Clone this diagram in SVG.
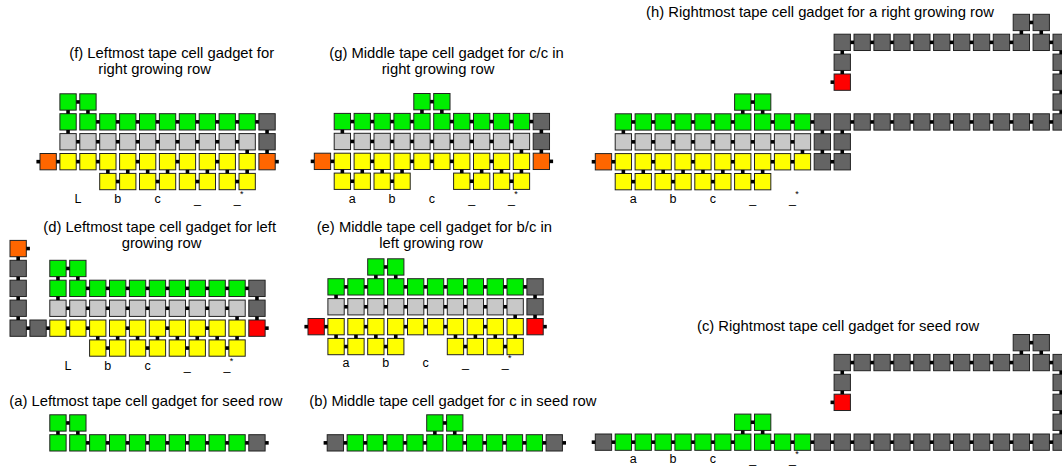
<svg xmlns="http://www.w3.org/2000/svg" width="1062" height="468" viewBox="0 0 1062 468">
<style>
.ti{font-family:"Liberation Sans",Arial,sans-serif;font-size:14.8px;fill:#000}
.lb{font-family:"Liberation Sans",Arial,sans-serif;font-size:12.5px;text-anchor:middle;fill:#000}
.st{font-family:"Liberation Sans",Arial,sans-serif;font-size:9px;fill:#000}
</style>
<defs>
<rect id="G" x="0.5" y="0.5" width="16.4" height="16.4" fill="#00ee00" stroke="#222" stroke-width="1"/>
<rect id="L" x="0.5" y="0.5" width="16.4" height="16.4" fill="#c8c8c8" stroke="#222" stroke-width="1"/>
<rect id="D" x="0.5" y="0.5" width="16.4" height="16.4" fill="#646464" stroke="#222" stroke-width="1"/>
<rect id="Y" x="0.5" y="0.5" width="16.4" height="16.4" fill="#ffff00" stroke="#222" stroke-width="1"/>
<rect id="O" x="0.5" y="0.5" width="16.4" height="16.4" fill="#ff6600" stroke="#222" stroke-width="1"/>
<rect id="R" x="0.5" y="0.5" width="16.4" height="16.4" fill="#ff0000" stroke="#222" stroke-width="1"/>
<rect id="k" width="3.6" height="3.6" fill="#000"/>
</defs>

<!-- (f) -->
<g id="gadget-f">
<text class="ti" x="69.3" y="58">(f) Leftmost tape cell gadget for</text>
<text class="ti" x="98.3" y="74.3">right growing row</text>
<g transform="translate(39.5,93.3) scale(0.995)">
<use href="#G" x="20" y="0"/><use href="#G" x="40" y="0"/>
<use href="#G" x="20" y="20"/><use href="#G" x="40" y="20"/><use href="#G" x="60" y="20"/><use href="#G" x="80" y="20"/><use href="#G" x="100" y="20"/><use href="#G" x="120" y="20"/><use href="#G" x="140" y="20"/><use href="#G" x="160" y="20"/><use href="#G" x="180" y="20"/><use href="#G" x="200" y="20"/><use href="#D" x="220" y="20"/>
<use href="#L" x="20" y="40"/><use href="#L" x="40" y="40"/><use href="#L" x="60" y="40"/><use href="#L" x="80" y="40"/><use href="#L" x="100" y="40"/><use href="#L" x="120" y="40"/><use href="#L" x="140" y="40"/><use href="#L" x="160" y="40"/><use href="#L" x="180" y="40"/><use href="#L" x="200" y="40"/><use href="#D" x="220" y="40"/>
<use href="#O" x="0" y="60"/><use href="#Y" x="20" y="60"/><use href="#Y" x="40" y="60"/><use href="#Y" x="60" y="60"/><use href="#Y" x="80" y="60"/><use href="#Y" x="100" y="60"/><use href="#Y" x="120" y="60"/><use href="#Y" x="140" y="60"/><use href="#Y" x="160" y="60"/><use href="#Y" x="180" y="60"/><use href="#Y" x="200" y="60"/><use href="#O" x="220" y="60"/>
<use href="#Y" x="60" y="80"/><use href="#Y" x="80" y="80"/><use href="#Y" x="100" y="80"/><use href="#Y" x="120" y="80"/><use href="#Y" x="140" y="80"/><use href="#Y" x="160" y="80"/><use href="#Y" x="180" y="80"/><use href="#Y" x="200" y="80"/>
</g>
<text class="lb" x="78" y="203.3">L</text><text class="lb" x="117.8" y="203.3">b</text><text class="lb" x="157.6" y="203.3">c</text><text class="lb" x="197.4" y="203.3">_</text><text class="lb" x="237.2" y="203.3">_</text><text class="st" x="239.9" y="197.3">*</text>
</g>

<!-- (g) -->
<g id="gadget-g">
<text class="ti" x="329.3" y="58">(g) Middle tape cell gadget for c/c in</text>
<text class="ti" x="381.7" y="74.3">right growing row</text>
<g transform="translate(313.8,93) scale(0.995)">
<use href="#G" x="100" y="0"/><use href="#G" x="120" y="0"/>
<use href="#G" x="20" y="20"/><use href="#G" x="40" y="20"/><use href="#G" x="60" y="20"/><use href="#G" x="80" y="20"/><use href="#G" x="100" y="20"/><use href="#G" x="120" y="20"/><use href="#G" x="140" y="20"/><use href="#G" x="160" y="20"/><use href="#G" x="180" y="20"/><use href="#G" x="200" y="20"/><use href="#D" x="220" y="20"/>
<use href="#L" x="20" y="40"/><use href="#L" x="40" y="40"/><use href="#L" x="60" y="40"/><use href="#L" x="80" y="40"/><use href="#L" x="100" y="40"/><use href="#L" x="120" y="40"/><use href="#L" x="140" y="40"/><use href="#L" x="160" y="40"/><use href="#L" x="180" y="40"/><use href="#L" x="200" y="40"/><use href="#D" x="220" y="40"/>
<use href="#O" x="0" y="60"/><use href="#Y" x="20" y="60"/><use href="#Y" x="40" y="60"/><use href="#Y" x="60" y="60"/><use href="#Y" x="80" y="60"/><use href="#Y" x="100" y="60"/><use href="#Y" x="120" y="60"/><use href="#Y" x="140" y="60"/><use href="#Y" x="160" y="60"/><use href="#Y" x="180" y="60"/><use href="#Y" x="200" y="60"/><use href="#O" x="220" y="60"/>
<use href="#Y" x="20" y="80"/><use href="#Y" x="40" y="80"/><use href="#Y" x="60" y="80"/><use href="#Y" x="80" y="80"/><use href="#Y" x="140" y="80"/><use href="#Y" x="160" y="80"/><use href="#Y" x="180" y="80"/><use href="#Y" x="200" y="80"/>
</g>
<text class="lb" x="352.3" y="202.7">a</text><text class="lb" x="392.1" y="202.7">b</text><text class="lb" x="431.9" y="202.7">c</text><text class="lb" x="471.7" y="202.7">_</text><text class="lb" x="511.5" y="202.7">_</text><text class="st" x="514.2" y="196.7">*</text>
</g>

<!-- (h) -->
<g id="gadget-h">
<text class="ti" x="646" y="16.7">(h) Rightmost tape cell gadget for a right growing row</text>
<g transform="translate(594.8,93.4) scale(0.995)">
<use href="#D" x="420" y="-80"/><use href="#D" x="440" y="-80"/>
<use href="#D" x="240" y="-60"/><use href="#D" x="260" y="-60"/><use href="#D" x="280" y="-60"/><use href="#D" x="300" y="-60"/><use href="#D" x="320" y="-60"/><use href="#D" x="340" y="-60"/><use href="#D" x="360" y="-60"/><use href="#D" x="380" y="-60"/><use href="#D" x="400" y="-60"/><use href="#D" x="420" y="-60"/><use href="#D" x="440" y="-60"/><use href="#D" x="460" y="-60"/>
<use href="#D" x="240" y="-40"/><use href="#D" x="460" y="-40"/>
<use href="#R" x="240" y="-20"/><use href="#D" x="460" y="-20"/>
<use href="#G" x="140" y="0"/><use href="#G" x="160" y="0"/><use href="#D" x="460" y="0"/>
<use href="#G" x="20" y="20"/><use href="#G" x="40" y="20"/><use href="#G" x="60" y="20"/><use href="#G" x="80" y="20"/><use href="#G" x="100" y="20"/><use href="#G" x="120" y="20"/><use href="#G" x="140" y="20"/><use href="#G" x="160" y="20"/><use href="#G" x="180" y="20"/><use href="#G" x="200" y="20"/>
<use href="#D" x="220" y="20"/><use href="#D" x="240" y="20"/><use href="#D" x="260" y="20"/><use href="#D" x="280" y="20"/><use href="#D" x="300" y="20"/><use href="#D" x="320" y="20"/><use href="#D" x="340" y="20"/><use href="#D" x="360" y="20"/><use href="#D" x="380" y="20"/><use href="#D" x="400" y="20"/><use href="#D" x="420" y="20"/><use href="#D" x="440" y="20"/><use href="#D" x="460" y="20"/>
<use href="#L" x="20" y="40"/><use href="#L" x="40" y="40"/><use href="#L" x="60" y="40"/><use href="#L" x="80" y="40"/><use href="#L" x="100" y="40"/><use href="#L" x="120" y="40"/><use href="#L" x="140" y="40"/><use href="#L" x="160" y="40"/><use href="#L" x="180" y="40"/><use href="#L" x="200" y="40"/><use href="#D" x="220" y="40"/><use href="#D" x="240" y="40"/>
<use href="#O" x="0" y="60"/><use href="#Y" x="20" y="60"/><use href="#Y" x="40" y="60"/><use href="#Y" x="60" y="60"/><use href="#Y" x="80" y="60"/><use href="#Y" x="100" y="60"/><use href="#Y" x="120" y="60"/><use href="#Y" x="140" y="60"/><use href="#Y" x="160" y="60"/><use href="#Y" x="180" y="60"/><use href="#Y" x="200" y="60"/><use href="#D" x="220" y="60"/><use href="#D" x="240" y="60"/>
<use href="#Y" x="20" y="80"/><use href="#Y" x="40" y="80"/><use href="#Y" x="60" y="80"/><use href="#Y" x="80" y="80"/><use href="#Y" x="100" y="80"/><use href="#Y" x="120" y="80"/><use href="#Y" x="140" y="80"/><use href="#Y" x="160" y="80"/>
</g>
<text class="lb" x="633.3" y="202.5">a</text><text class="lb" x="673.1" y="202.5">b</text><text class="lb" x="712.9" y="202.5">c</text><text class="lb" x="752.7" y="202.5">_</text><text class="lb" x="792.5" y="202.5">_</text><text class="st" x="795.2" y="196.5">*</text>
</g>

<!-- (d) -->
<g id="gadget-d">
<text class="ti" x="43.3" y="232">(d) Leftmost tape cell gadget for left</text>
<text class="ti" x="121.7" y="248.3">growing row</text>
<g transform="translate(29.4,259.8) scale(0.995)">
<use href="#O" x="-20" y="-20"/>
<use href="#D" x="-20" y="0"/><use href="#D" x="-20" y="20"/><use href="#D" x="-20" y="40"/><use href="#D" x="-20" y="60"/><use href="#D" x="0" y="60"/>
<use href="#G" x="20" y="0"/><use href="#G" x="40" y="0"/>
<use href="#G" x="20" y="20"/><use href="#G" x="40" y="20"/><use href="#G" x="60" y="20"/><use href="#G" x="80" y="20"/><use href="#G" x="100" y="20"/><use href="#G" x="120" y="20"/><use href="#G" x="140" y="20"/><use href="#G" x="160" y="20"/><use href="#G" x="180" y="20"/><use href="#G" x="200" y="20"/><use href="#D" x="220" y="20"/>
<use href="#L" x="20" y="40"/><use href="#L" x="40" y="40"/><use href="#L" x="60" y="40"/><use href="#L" x="80" y="40"/><use href="#L" x="100" y="40"/><use href="#L" x="120" y="40"/><use href="#L" x="140" y="40"/><use href="#L" x="160" y="40"/><use href="#L" x="180" y="40"/><use href="#L" x="200" y="40"/><use href="#D" x="220" y="40"/>
<use href="#Y" x="20" y="60"/><use href="#Y" x="40" y="60"/><use href="#Y" x="60" y="60"/><use href="#Y" x="80" y="60"/><use href="#Y" x="100" y="60"/><use href="#Y" x="120" y="60"/><use href="#Y" x="140" y="60"/><use href="#Y" x="160" y="60"/><use href="#Y" x="180" y="60"/><use href="#Y" x="200" y="60"/><use href="#R" x="220" y="60"/>
<use href="#Y" x="60" y="80"/><use href="#Y" x="80" y="80"/><use href="#Y" x="100" y="80"/><use href="#Y" x="120" y="80"/><use href="#Y" x="140" y="80"/><use href="#Y" x="160" y="80"/><use href="#Y" x="180" y="80"/><use href="#Y" x="200" y="80"/>
</g>
<text class="lb" x="67.9" y="369.5">L</text><text class="lb" x="107.7" y="369.5">b</text><text class="lb" x="147.5" y="369.5">c</text><text class="lb" x="187.3" y="369.5">_</text><text class="lb" x="227.1" y="369.5">_</text><text class="st" x="229.8" y="363.5">*</text>
</g>

<!-- (e) -->
<g id="gadget-e">
<text class="ti" x="316.7" y="232">(e) Middle tape cell gadget for b/c in</text>
<text class="ti" x="379.3" y="248.3">left growing row</text>
<g transform="translate(307.5,258.3) scale(0.995)">
<use href="#G" x="60" y="0"/><use href="#G" x="80" y="0"/>
<use href="#G" x="20" y="20"/><use href="#G" x="40" y="20"/><use href="#G" x="60" y="20"/><use href="#G" x="80" y="20"/><use href="#G" x="100" y="20"/><use href="#G" x="120" y="20"/><use href="#G" x="140" y="20"/><use href="#G" x="160" y="20"/><use href="#G" x="180" y="20"/><use href="#G" x="200" y="20"/><use href="#D" x="220" y="20"/>
<use href="#L" x="20" y="40"/><use href="#L" x="40" y="40"/><use href="#L" x="60" y="40"/><use href="#L" x="80" y="40"/><use href="#L" x="100" y="40"/><use href="#L" x="120" y="40"/><use href="#L" x="140" y="40"/><use href="#L" x="160" y="40"/><use href="#L" x="180" y="40"/><use href="#L" x="200" y="40"/><use href="#D" x="220" y="40"/>
<use href="#R" x="0" y="60"/><use href="#Y" x="20" y="60"/><use href="#Y" x="40" y="60"/><use href="#Y" x="60" y="60"/><use href="#Y" x="80" y="60"/><use href="#Y" x="100" y="60"/><use href="#Y" x="120" y="60"/><use href="#Y" x="140" y="60"/><use href="#Y" x="160" y="60"/><use href="#Y" x="180" y="60"/><use href="#Y" x="200" y="60"/><use href="#R" x="220" y="60"/>
<use href="#Y" x="20" y="80"/><use href="#Y" x="40" y="80"/><use href="#Y" x="60" y="80"/><use href="#Y" x="80" y="80"/><use href="#Y" x="140" y="80"/><use href="#Y" x="160" y="80"/><use href="#Y" x="180" y="80"/><use href="#Y" x="200" y="80"/>
</g>
<text class="lb" x="346" y="367">a</text><text class="lb" x="385.8" y="367">b</text><text class="lb" x="425.6" y="367">c</text><text class="lb" x="465.4" y="367">_</text><text class="lb" x="505.2" y="367">_</text><text class="st" x="507.9" y="361">*</text>
</g>

<!-- (a) -->
<g id="gadget-a">
<text class="ti" x="9.3" y="405.7">(a) Leftmost tape cell gadget for seed row</text>
<g transform="translate(29.4,414.3) scale(0.995)">
<use href="#G" x="20" y="0"/><use href="#G" x="40" y="0"/>
<use href="#G" x="20" y="20"/><use href="#G" x="40" y="20"/><use href="#G" x="60" y="20"/><use href="#G" x="80" y="20"/><use href="#G" x="100" y="20"/><use href="#G" x="120" y="20"/><use href="#G" x="140" y="20"/><use href="#G" x="160" y="20"/><use href="#G" x="180" y="20"/><use href="#G" x="200" y="20"/><use href="#D" x="220" y="20"/>
</g>
</g>

<!-- (b) -->
<g id="gadget-b">
<text class="ti" x="309.3" y="405.7">(b) Middle tape cell gadget for c in seed row</text>
<g transform="translate(326.7,414.3) scale(0.995)">
<use href="#G" x="100" y="0"/><use href="#G" x="120" y="0"/>
<use href="#D" x="0" y="20"/><use href="#G" x="20" y="20"/><use href="#G" x="40" y="20"/><use href="#G" x="60" y="20"/><use href="#G" x="80" y="20"/><use href="#G" x="100" y="20"/><use href="#G" x="120" y="20"/><use href="#G" x="140" y="20"/><use href="#G" x="160" y="20"/><use href="#G" x="180" y="20"/><use href="#G" x="200" y="20"/><use href="#D" x="220" y="20"/>
</g>
</g>

<!-- (c) -->
<g id="gadget-c">
<text class="ti" x="697" y="330.7">(c) Rightmost tape cell gadget for seed row</text>
<g transform="translate(594.8,413.6) scale(0.995)">
<use href="#D" x="420" y="-80"/><use href="#D" x="440" y="-80"/>
<use href="#D" x="240" y="-60"/><use href="#D" x="260" y="-60"/><use href="#D" x="280" y="-60"/><use href="#D" x="300" y="-60"/><use href="#D" x="320" y="-60"/><use href="#D" x="340" y="-60"/><use href="#D" x="360" y="-60"/><use href="#D" x="380" y="-60"/><use href="#D" x="400" y="-60"/><use href="#D" x="420" y="-60"/><use href="#D" x="440" y="-60"/><use href="#D" x="460" y="-60"/>
<use href="#D" x="240" y="-40"/><use href="#D" x="460" y="-40"/>
<use href="#R" x="240" y="-20"/><use href="#D" x="460" y="-20"/>
<use href="#G" x="140" y="0"/><use href="#G" x="160" y="0"/><use href="#D" x="460" y="0"/>
<use href="#D" x="0" y="20"/><use href="#G" x="20" y="20"/><use href="#G" x="40" y="20"/><use href="#G" x="60" y="20"/><use href="#G" x="80" y="20"/><use href="#G" x="100" y="20"/><use href="#G" x="120" y="20"/><use href="#G" x="140" y="20"/><use href="#G" x="160" y="20"/><use href="#G" x="180" y="20"/><use href="#G" x="200" y="20"/>
<use href="#D" x="220" y="20"/><use href="#D" x="240" y="20"/><use href="#D" x="260" y="20"/><use href="#D" x="280" y="20"/><use href="#D" x="300" y="20"/><use href="#D" x="320" y="20"/><use href="#D" x="340" y="20"/><use href="#D" x="360" y="20"/><use href="#D" x="380" y="20"/><use href="#D" x="400" y="20"/><use href="#D" x="420" y="20"/><use href="#D" x="440" y="20"/><use href="#D" x="460" y="20"/>
</g>
<text class="lb" x="633.3" y="463.3">a</text><text class="lb" x="673.1" y="463.3">b</text><text class="lb" x="712.9" y="463.3">c</text><text class="lb" x="752.7" y="463.3">_</text><text class="lb" x="792.5" y="463.3">_</text><text class="st" x="795.2" y="457.3">*</text>
</g>

<g id="connectors">
<g id="conn-f" transform="translate(39.5,93.3) scale(0.995)">
<use href="#k" x="36.9" y="6.9"/><use href="#k" x="26.9" y="16.9"/><use href="#k" x="46.9" y="16.9"/>
<use href="#k" x="56.9" y="26.9"/><use href="#k" x="76.9" y="26.9"/><use href="#k" x="96.9" y="26.9"/><use href="#k" x="116.9" y="26.9"/><use href="#k" x="136.9" y="26.9"/><use href="#k" x="156.9" y="26.9"/><use href="#k" x="176.9" y="26.9"/><use href="#k" x="196.9" y="26.9"/><use href="#k" x="216.9" y="26.9"/>
<use href="#k" x="26.9" y="36.9"/><use href="#k" x="226.9" y="36.9"/>
<use href="#k" x="36.9" y="46.9"/><use href="#k" x="56.9" y="46.9"/><use href="#k" x="76.9" y="46.9"/><use href="#k" x="96.9" y="46.9"/><use href="#k" x="116.9" y="46.9"/><use href="#k" x="136.9" y="46.9"/><use href="#k" x="156.9" y="46.9"/><use href="#k" x="176.9" y="46.9"/><use href="#k" x="196.9" y="46.9"/>
<use href="#k" x="206.9" y="56.9"/><use href="#k" x="226.9" y="56.9"/>
<use href="#k" x="-3.1" y="66.9"/><use href="#k" x="16.9" y="66.9"/><use href="#k" x="36.9" y="66.9"/><use href="#k" x="56.9" y="66.9"/><use href="#k" x="96.9" y="66.9"/><use href="#k" x="136.9" y="66.9"/><use href="#k" x="176.9" y="66.9"/><use href="#k" x="236.9" y="66.9"/>
<use href="#k" x="66.9" y="76.9"/><use href="#k" x="86.9" y="76.9"/><use href="#k" x="106.9" y="76.9"/><use href="#k" x="126.9" y="76.9"/><use href="#k" x="146.9" y="76.9"/><use href="#k" x="166.9" y="76.9"/><use href="#k" x="186.9" y="76.9"/><use href="#k" x="206.9" y="76.9"/>
<use href="#k" x="76.9" y="86.9"/><use href="#k" x="116.9" y="86.9"/><use href="#k" x="156.9" y="86.9"/><use href="#k" x="196.9" y="86.9"/>
</g>
<g id="conn-g" transform="translate(313.8,93) scale(0.995)">
<use href="#k" x="116.9" y="6.9"/><use href="#k" x="106.9" y="16.9"/><use href="#k" x="126.9" y="16.9"/>
<use href="#k" x="36.9" y="26.9"/><use href="#k" x="56.9" y="26.9"/><use href="#k" x="76.9" y="26.9"/><use href="#k" x="96.9" y="26.9"/><use href="#k" x="136.9" y="26.9"/><use href="#k" x="156.9" y="26.9"/><use href="#k" x="176.9" y="26.9"/><use href="#k" x="196.9" y="26.9"/><use href="#k" x="216.9" y="26.9"/>
<use href="#k" x="26.9" y="36.9"/><use href="#k" x="226.9" y="36.9"/>
<use href="#k" x="36.9" y="46.9"/><use href="#k" x="56.9" y="46.9"/><use href="#k" x="76.9" y="46.9"/><use href="#k" x="96.9" y="46.9"/><use href="#k" x="116.9" y="46.9"/><use href="#k" x="136.9" y="46.9"/><use href="#k" x="156.9" y="46.9"/><use href="#k" x="176.9" y="46.9"/><use href="#k" x="196.9" y="46.9"/>
<use href="#k" x="206.9" y="56.9"/><use href="#k" x="226.9" y="56.9"/>
<use href="#k" x="-3.1" y="66.9"/><use href="#k" x="16.9" y="66.9"/><use href="#k" x="56.9" y="66.9"/><use href="#k" x="96.9" y="66.9"/><use href="#k" x="116.9" y="66.9"/><use href="#k" x="136.9" y="66.9"/><use href="#k" x="176.9" y="66.9"/><use href="#k" x="236.9" y="66.9"/>
<use href="#k" x="26.9" y="76.9"/><use href="#k" x="46.9" y="76.9"/><use href="#k" x="66.9" y="76.9"/><use href="#k" x="86.9" y="76.9"/><use href="#k" x="146.9" y="76.9"/><use href="#k" x="166.9" y="76.9"/><use href="#k" x="186.9" y="76.9"/><use href="#k" x="206.9" y="76.9"/>
<use href="#k" x="36.9" y="86.9"/><use href="#k" x="76.9" y="86.9"/><use href="#k" x="156.9" y="86.9"/><use href="#k" x="196.9" y="86.9"/>
</g>
<g id="conn-h" transform="translate(594.8,93.4) scale(0.995)">
<use href="#k" x="436.9" y="-73.1"/><use href="#k" x="426.9" y="-63.1"/><use href="#k" x="446.9" y="-63.1"/>
<use href="#k" x="256.9" y="-53.1"/><use href="#k" x="276.9" y="-53.1"/><use href="#k" x="296.9" y="-53.1"/><use href="#k" x="316.9" y="-53.1"/><use href="#k" x="336.9" y="-53.1"/><use href="#k" x="356.9" y="-53.1"/><use href="#k" x="376.9" y="-53.1"/><use href="#k" x="396.9" y="-53.1"/><use href="#k" x="416.9" y="-53.1"/><use href="#k" x="456.9" y="-53.1"/>
<use href="#k" x="246.9" y="-43.1"/><use href="#k" x="466.9" y="-43.1"/>
<use href="#k" x="246.9" y="-23.1"/><use href="#k" x="466.9" y="-23.1"/>
<use href="#k" x="236.9" y="-13.1"/><use href="#k" x="466.9" y="-3.1"/>
<use href="#k" x="156.9" y="6.9"/><use href="#k" x="146.9" y="16.9"/><use href="#k" x="166.9" y="16.9"/><use href="#k" x="466.9" y="16.9"/>
<use href="#k" x="36.9" y="26.9"/><use href="#k" x="56.9" y="26.9"/><use href="#k" x="76.9" y="26.9"/><use href="#k" x="96.9" y="26.9"/><use href="#k" x="116.9" y="26.9"/><use href="#k" x="136.9" y="26.9"/><use href="#k" x="176.9" y="26.9"/><use href="#k" x="196.9" y="26.9"/><use href="#k" x="216.9" y="26.9"/>
<use href="#k" x="256.9" y="26.9"/><use href="#k" x="276.9" y="26.9"/><use href="#k" x="296.9" y="26.9"/><use href="#k" x="316.9" y="26.9"/><use href="#k" x="336.9" y="26.9"/><use href="#k" x="356.9" y="26.9"/><use href="#k" x="376.9" y="26.9"/><use href="#k" x="396.9" y="26.9"/><use href="#k" x="416.9" y="26.9"/><use href="#k" x="436.9" y="26.9"/><use href="#k" x="456.9" y="26.9"/>
<use href="#k" x="26.9" y="36.9"/><use href="#k" x="226.9" y="36.9"/><use href="#k" x="246.9" y="36.9"/>
<use href="#k" x="36.9" y="46.9"/><use href="#k" x="56.9" y="46.9"/><use href="#k" x="76.9" y="46.9"/><use href="#k" x="96.9" y="46.9"/><use href="#k" x="116.9" y="46.9"/><use href="#k" x="136.9" y="46.9"/><use href="#k" x="156.9" y="46.9"/><use href="#k" x="176.9" y="46.9"/><use href="#k" x="196.9" y="46.9"/>
<use href="#k" x="206.9" y="56.9"/><use href="#k" x="226.9" y="56.9"/><use href="#k" x="246.9" y="56.9"/>
<use href="#k" x="-3.1" y="66.9"/><use href="#k" x="16.9" y="66.9"/><use href="#k" x="56.9" y="66.9"/><use href="#k" x="96.9" y="66.9"/><use href="#k" x="136.9" y="66.9"/><use href="#k" x="176.9" y="66.9"/><use href="#k" x="196.9" y="66.9"/><use href="#k" x="236.9" y="66.9"/>
<use href="#k" x="26.9" y="76.9"/><use href="#k" x="46.9" y="76.9"/><use href="#k" x="66.9" y="76.9"/><use href="#k" x="86.9" y="76.9"/><use href="#k" x="106.9" y="76.9"/><use href="#k" x="126.9" y="76.9"/><use href="#k" x="146.9" y="76.9"/><use href="#k" x="166.9" y="76.9"/>
<use href="#k" x="36.9" y="86.9"/><use href="#k" x="76.9" y="86.9"/><use href="#k" x="116.9" y="86.9"/><use href="#k" x="156.9" y="86.9"/>
</g>
<g id="conn-d" transform="translate(29.4,259.8) scale(0.995)">
<use href="#k" x="-3.1" y="-13.1"/><use href="#k" x="-13.1" y="-3.1"/><use href="#k" x="-13.1" y="16.9"/><use href="#k" x="-13.1" y="36.9"/><use href="#k" x="-13.1" y="56.9"/>
<use href="#k" x="36.9" y="6.9"/><use href="#k" x="26.9" y="16.9"/><use href="#k" x="46.9" y="16.9"/>
<use href="#k" x="56.9" y="26.9"/><use href="#k" x="76.9" y="26.9"/><use href="#k" x="96.9" y="26.9"/><use href="#k" x="116.9" y="26.9"/><use href="#k" x="136.9" y="26.9"/><use href="#k" x="156.9" y="26.9"/><use href="#k" x="176.9" y="26.9"/><use href="#k" x="196.9" y="26.9"/><use href="#k" x="216.9" y="26.9"/>
<use href="#k" x="26.9" y="36.9"/><use href="#k" x="226.9" y="36.9"/>
<use href="#k" x="36.9" y="46.9"/><use href="#k" x="56.9" y="46.9"/><use href="#k" x="76.9" y="46.9"/><use href="#k" x="96.9" y="46.9"/><use href="#k" x="116.9" y="46.9"/><use href="#k" x="136.9" y="46.9"/><use href="#k" x="156.9" y="46.9"/><use href="#k" x="176.9" y="46.9"/><use href="#k" x="196.9" y="46.9"/>
<use href="#k" x="206.9" y="56.9"/><use href="#k" x="226.9" y="56.9"/>
<use href="#k" x="-3.1" y="66.9"/><use href="#k" x="16.9" y="66.9"/><use href="#k" x="36.9" y="66.9"/><use href="#k" x="56.9" y="66.9"/><use href="#k" x="96.9" y="66.9"/><use href="#k" x="136.9" y="66.9"/><use href="#k" x="176.9" y="66.9"/><use href="#k" x="236.9" y="66.9"/>
<use href="#k" x="66.9" y="76.9"/><use href="#k" x="86.9" y="76.9"/><use href="#k" x="106.9" y="76.9"/><use href="#k" x="126.9" y="76.9"/><use href="#k" x="146.9" y="76.9"/><use href="#k" x="166.9" y="76.9"/><use href="#k" x="186.9" y="76.9"/><use href="#k" x="206.9" y="76.9"/>
<use href="#k" x="76.9" y="86.9"/><use href="#k" x="116.9" y="86.9"/><use href="#k" x="156.9" y="86.9"/><use href="#k" x="196.9" y="86.9"/>
</g>
<g id="conn-e" transform="translate(307.5,258.3) scale(0.995)">
<use href="#k" x="76.9" y="6.9"/><use href="#k" x="66.9" y="16.9"/><use href="#k" x="86.9" y="16.9"/>
<use href="#k" x="36.9" y="26.9"/><use href="#k" x="56.9" y="26.9"/><use href="#k" x="96.9" y="26.9"/><use href="#k" x="116.9" y="26.9"/><use href="#k" x="136.9" y="26.9"/><use href="#k" x="156.9" y="26.9"/><use href="#k" x="176.9" y="26.9"/><use href="#k" x="196.9" y="26.9"/><use href="#k" x="216.9" y="26.9"/>
<use href="#k" x="26.9" y="36.9"/><use href="#k" x="226.9" y="36.9"/>
<use href="#k" x="36.9" y="46.9"/><use href="#k" x="56.9" y="46.9"/><use href="#k" x="76.9" y="46.9"/><use href="#k" x="96.9" y="46.9"/><use href="#k" x="116.9" y="46.9"/><use href="#k" x="136.9" y="46.9"/><use href="#k" x="156.9" y="46.9"/><use href="#k" x="176.9" y="46.9"/><use href="#k" x="196.9" y="46.9"/>
<use href="#k" x="206.9" y="56.9"/><use href="#k" x="226.9" y="56.9"/>
<use href="#k" x="-3.1" y="66.9"/><use href="#k" x="16.9" y="66.9"/><use href="#k" x="56.9" y="66.9"/><use href="#k" x="96.9" y="66.9"/><use href="#k" x="116.9" y="66.9"/><use href="#k" x="136.9" y="66.9"/><use href="#k" x="176.9" y="66.9"/><use href="#k" x="236.9" y="66.9"/>
<use href="#k" x="26.9" y="76.9"/><use href="#k" x="46.9" y="76.9"/><use href="#k" x="66.9" y="76.9"/><use href="#k" x="86.9" y="76.9"/><use href="#k" x="146.9" y="76.9"/><use href="#k" x="166.9" y="76.9"/><use href="#k" x="186.9" y="76.9"/><use href="#k" x="206.9" y="76.9"/>
<use href="#k" x="36.9" y="86.9"/><use href="#k" x="76.9" y="86.9"/><use href="#k" x="156.9" y="86.9"/><use href="#k" x="196.9" y="86.9"/>
</g>
<g id="conn-a" transform="translate(29.4,414.3) scale(0.995)">
<use href="#k" x="36.9" y="6.9"/><use href="#k" x="26.9" y="16.9"/><use href="#k" x="46.9" y="16.9"/>
<use href="#k" x="56.9" y="26.9"/><use href="#k" x="76.9" y="26.9"/><use href="#k" x="96.9" y="26.9"/><use href="#k" x="116.9" y="26.9"/><use href="#k" x="136.9" y="26.9"/><use href="#k" x="156.9" y="26.9"/><use href="#k" x="176.9" y="26.9"/><use href="#k" x="196.9" y="26.9"/><use href="#k" x="216.9" y="26.9"/><use href="#k" x="236.9" y="26.9"/>
</g>
<g id="conn-b" transform="translate(326.7,414.3) scale(0.995)">
<use href="#k" x="116.9" y="6.9"/><use href="#k" x="106.9" y="16.9"/><use href="#k" x="126.9" y="16.9"/>
<use href="#k" x="-3.1" y="26.9"/><use href="#k" x="16.9" y="26.9"/><use href="#k" x="36.9" y="26.9"/><use href="#k" x="56.9" y="26.9"/><use href="#k" x="76.9" y="26.9"/><use href="#k" x="96.9" y="26.9"/><use href="#k" x="136.9" y="26.9"/><use href="#k" x="156.9" y="26.9"/><use href="#k" x="176.9" y="26.9"/><use href="#k" x="196.9" y="26.9"/><use href="#k" x="216.9" y="26.9"/><use href="#k" x="236.9" y="26.9"/>
</g>
<g id="conn-c" transform="translate(594.8,413.6) scale(0.995)">
<use href="#k" x="436.9" y="-73.1"/><use href="#k" x="426.9" y="-63.1"/><use href="#k" x="446.9" y="-63.1"/>
<use href="#k" x="256.9" y="-53.1"/><use href="#k" x="276.9" y="-53.1"/><use href="#k" x="296.9" y="-53.1"/><use href="#k" x="316.9" y="-53.1"/><use href="#k" x="336.9" y="-53.1"/><use href="#k" x="356.9" y="-53.1"/><use href="#k" x="376.9" y="-53.1"/><use href="#k" x="396.9" y="-53.1"/><use href="#k" x="416.9" y="-53.1"/><use href="#k" x="456.9" y="-53.1"/>
<use href="#k" x="246.9" y="-43.1"/><use href="#k" x="466.9" y="-43.1"/>
<use href="#k" x="246.9" y="-23.1"/><use href="#k" x="466.9" y="-23.1"/>
<use href="#k" x="236.9" y="-13.1"/><use href="#k" x="466.9" y="-3.1"/>
<use href="#k" x="156.9" y="6.9"/><use href="#k" x="146.9" y="16.9"/><use href="#k" x="166.9" y="16.9"/><use href="#k" x="466.9" y="16.9"/>
<use href="#k" x="-3.1" y="26.9"/><use href="#k" x="16.9" y="26.9"/><use href="#k" x="36.9" y="26.9"/><use href="#k" x="56.9" y="26.9"/><use href="#k" x="76.9" y="26.9"/><use href="#k" x="96.9" y="26.9"/><use href="#k" x="116.9" y="26.9"/><use href="#k" x="136.9" y="26.9"/>
<use href="#k" x="176.9" y="26.9"/><use href="#k" x="196.9" y="26.9"/><use href="#k" x="216.9" y="26.9"/><use href="#k" x="236.9" y="26.9"/><use href="#k" x="256.9" y="26.9"/><use href="#k" x="276.9" y="26.9"/><use href="#k" x="296.9" y="26.9"/><use href="#k" x="316.9" y="26.9"/><use href="#k" x="336.9" y="26.9"/><use href="#k" x="356.9" y="26.9"/><use href="#k" x="376.9" y="26.9"/><use href="#k" x="396.9" y="26.9"/><use href="#k" x="416.9" y="26.9"/><use href="#k" x="436.9" y="26.9"/><use href="#k" x="456.9" y="26.9"/>
</g>
</g>
</svg>
